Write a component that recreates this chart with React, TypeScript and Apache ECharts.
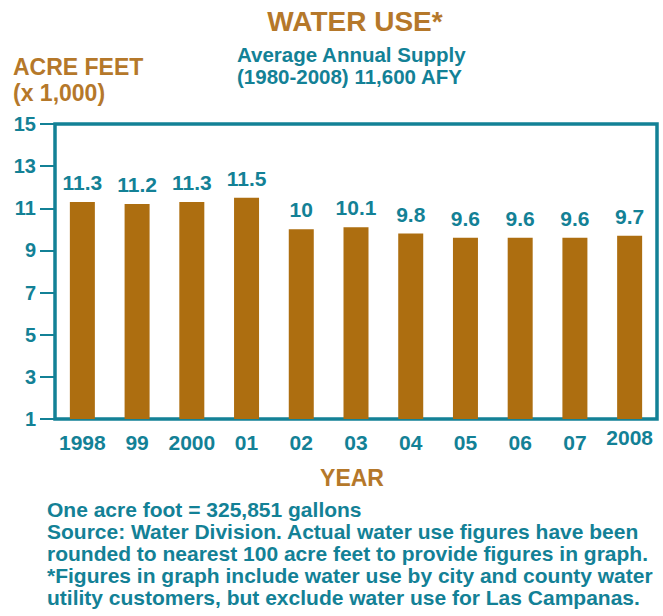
import React, { useEffect, useRef } from "react";
import * as echarts from "echarts";

const years = ["1998", "99", "2000", "01", "02", "03", "04", "05", "06", "07", "2008"];
const waterUse = [11.3, 11.2, 11.3, 11.5, 10, 10.1, 9.8, 9.6, 9.6, 9.6, 9.7];
const yTicks = { min: 1, max: 15, interval: 2 };
const titleText = "WATER USE*";
const subtitleLines = ["Average Annual Supply", "(1980-2008) 11,600 AFY"];
const unitLines = ["ACRE FEET", "(x 1,000)"];
const xAxisTitle = "YEAR";
const footnoteLines = [
  "One acre foot = 325,851 gallons",
  "Source: Water Division. Actual water use figures have been",
  "rounded to nearest 100 acre feet to provide figures in graph.",
  "*Figures in graph include water use by city and county water",
  "utility customers, but exclude water use for Las Campanas.",
];

const TEAL = "#138196";
const BROWN = "#AD6E10";
const TITLE_BROWN = "#B5782A";
const FONT = "'Liberation Sans', Arial, sans-serif";

export default function App() {
  const ref = useRef<HTMLDivElement>(null);
  useEffect(() => {
    if (!ref.current) return;
    const chart = echarts.init(ref.current, null, { renderer: "svg" });
    const last = years.length - 1;
    const labelBase = {
      color: TEAL,
      fontFamily: FONT,
      fontWeight: "bold",
      fontSize: 21,
    };
    chart.setOption({
      animation: false,
      backgroundColor: "#ffffff",
      grid: {
        left: 55,
        right: 6,
        top: 124,
        bottom: 197,
        show: true,
        borderColor: TEAL,
        borderWidth: 3.5,
        backgroundColor: "transparent",
      },
      xAxis: {
        type: "category",
        data: years,
        axisLine: { show: false },
        axisTick: { show: false },
        axisLabel: {
          ...labelBase,
          margin: 8,
          interval: 0,
          formatter: (v: string, i: number) => (i === last ? `{r|${v}}` : `{n|${v}}`),
          rich: {
            n: { ...labelBase, padding: [5, 0, 0, 0] },
            r: { ...labelBase, padding: [0, 0, 0, 0] },
          },
        },
      },
      yAxis: {
        type: "value",
        min: yTicks.min,
        max: yTicks.max,
        interval: yTicks.interval,
        splitLine: { show: false },
        axisLine: { show: false },
        axisTick: { show: true, length: 15, lineStyle: { color: TEAL, width: 2 } },
        axisLabel: {
          color: TEAL,
          fontFamily: FONT,
          fontWeight: "bold",
          fontSize: 20,
          margin: 19,
        },
      },
      series: [
        {
          type: "bar",
          data: waterUse,
          barWidth: 25,
          clip: true,
          itemStyle: { color: BROWN },
          label: {
            show: true,
            position: "top",
            distance: 9,
            ...labelBase,
          },
        },
      ],
      graphic: [
        {
          type: "text",
          x: 355,
          y: 21,
          style: {
            text: titleText,
            fill: TITLE_BROWN,
            font: `bold 28px ${FONT}`,
            align: "center",
            verticalAlign: "middle",
          },
        },
        {
          type: "text",
          x: 237,
          y: 43,
          style: {
            text: subtitleLines.join("\n"),
            fill: TEAL,
            font: `bold 20.5px ${FONT}`,
            lineHeight: 22,
            align: "left",
            verticalAlign: "top",
          },
        },
        {
          type: "text",
          x: 13,
          y: 67,
          style: {
            text: unitLines[0],
            fill: TITLE_BROWN,
            font: `bold 23px ${FONT}`,
            align: "left",
            verticalAlign: "middle",
          },
        },
        {
          type: "text",
          x: 13,
          y: 93,
          style: {
            text: unitLines[1],
            fill: TITLE_BROWN,
            font: `bold 23px ${FONT}`,
            align: "left",
            verticalAlign: "middle",
          },
        },
        {
          type: "text",
          x: 352,
          y: 478,
          style: {
            text: xAxisTitle,
            fill: TITLE_BROWN,
            font: `bold 23px ${FONT}`,
            align: "center",
            verticalAlign: "middle",
          },
        },
        {
          type: "text",
          x: 47,
          y: 498,
          style: {
            text: footnoteLines.join("\n"),
            fill: TEAL,
            font: `bold 21px ${FONT}`,
            lineHeight: 22,
            align: "left",
            verticalAlign: "top",
          },
        },
      ],
    });
    return () => chart.dispose();
  }, []);
  return (
    <div
      ref={ref}
      style={{ position: "fixed", left: 0, top: 0, width: 663, height: 616 }}
    />
  );
}
